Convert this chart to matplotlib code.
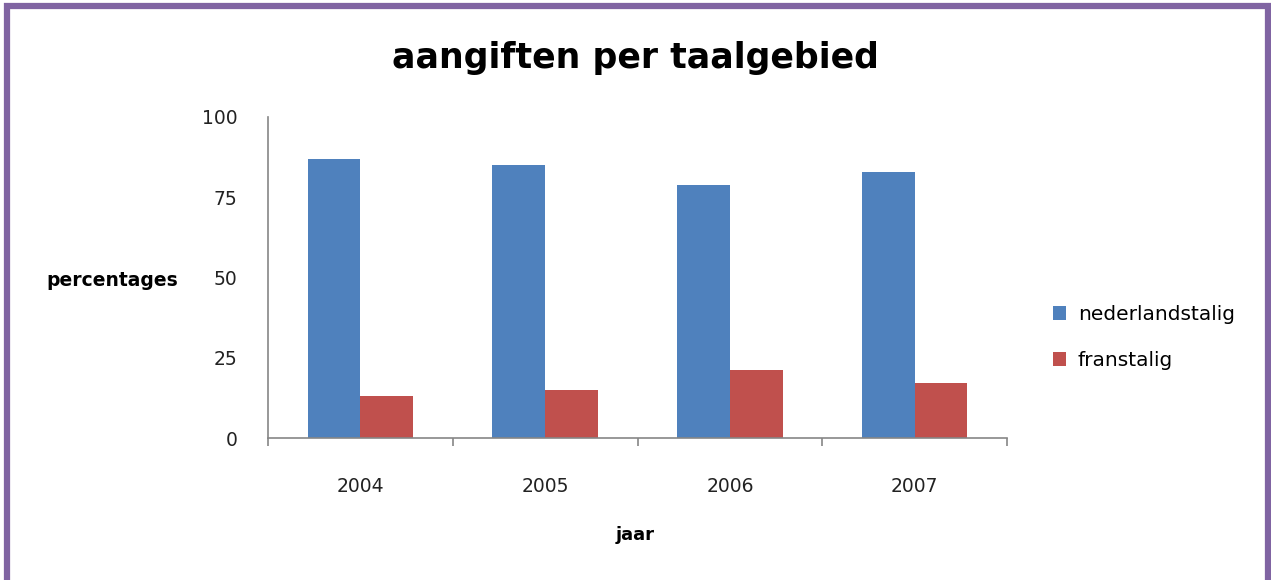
import matplotlib.pyplot as plt
import numpy as np
from matplotlib.patches import Rectangle

years = ["2004", "2005", "2006", "2007"]
nederlandstalig = [86.8, 85.0, 78.7, 83.0]
franstalig = [13.2, 15.0, 21.3, 17.0]

blue = "#4F81BD"
red = "#C0504D"
purple = "#8064A2"
axis_grey = "#868686"

plt.rcParams['font.family'] = ['DejaVu Sans']

fig = plt.figure(figsize=(12.71, 5.80), dpi=100)
ax = fig.add_axes([0.2109, 0.2448, 0.5814, 0.5535])

x = np.arange(len(years))
w = 0.2857
ax.bar(x - w / 2, nederlandstalig, w, color=blue, label="nederlandstalig")
ax.bar(x + w / 2, franstalig, w, color=red, label="franstalig")

ax.set_xlim(-0.5, len(years) - 0.5)
ax.set_ylim(0, 100)
ax.set_yticks([0, 25, 50, 75, 100])
ax.set_xticks(x)
ax.set_xticklabels(years)
ax.set_xticks(np.arange(-0.5, len(years)), minor=True)

for s in ["top", "right"]:
    ax.spines[s].set_visible(False)
for s in ["left", "bottom"]:
    ax.spines[s].set_color(axis_grey)
    ax.spines[s].set_linewidth(1.2)

ax.tick_params(axis="y", length=0, pad=22, labelsize=13.5, labelcolor="#222222")
ax.tick_params(axis="x", which="major", length=0, pad=28, labelsize=13.5, labelcolor="#222222")
ax.tick_params(axis="x", which="minor", length=6, width=1.2, color=axis_grey)

fig.text(0.500, 0.900, "aangiften per taalgebied", ha="center", va="center",
         fontsize=25, fontweight="bold")
fig.text(0.088, 0.517, "percentages", ha="center", va="center",
         fontsize=13.5, fontweight="bold")
fig.text(0.500, 0.078, "jaar", ha="center", va="center",
         fontsize=13, fontweight="bold")

fig.legend(loc="center left", bbox_to_anchor=(0.814, 0.418), frameon=False,
           fontsize=14.5, handlelength=0.65, handleheight=0.65, handletextpad=0.6,
           labelspacing=1.35)

# purple border round the chart
fig.patches.append(Rectangle((0.0055, -0.02), 0.9922, 1.0095, transform=fig.transFigure,
                             fill=False, edgecolor=purple, linewidth=4.5))

fig.savefig("out.png", dpi=100, facecolor="white")
